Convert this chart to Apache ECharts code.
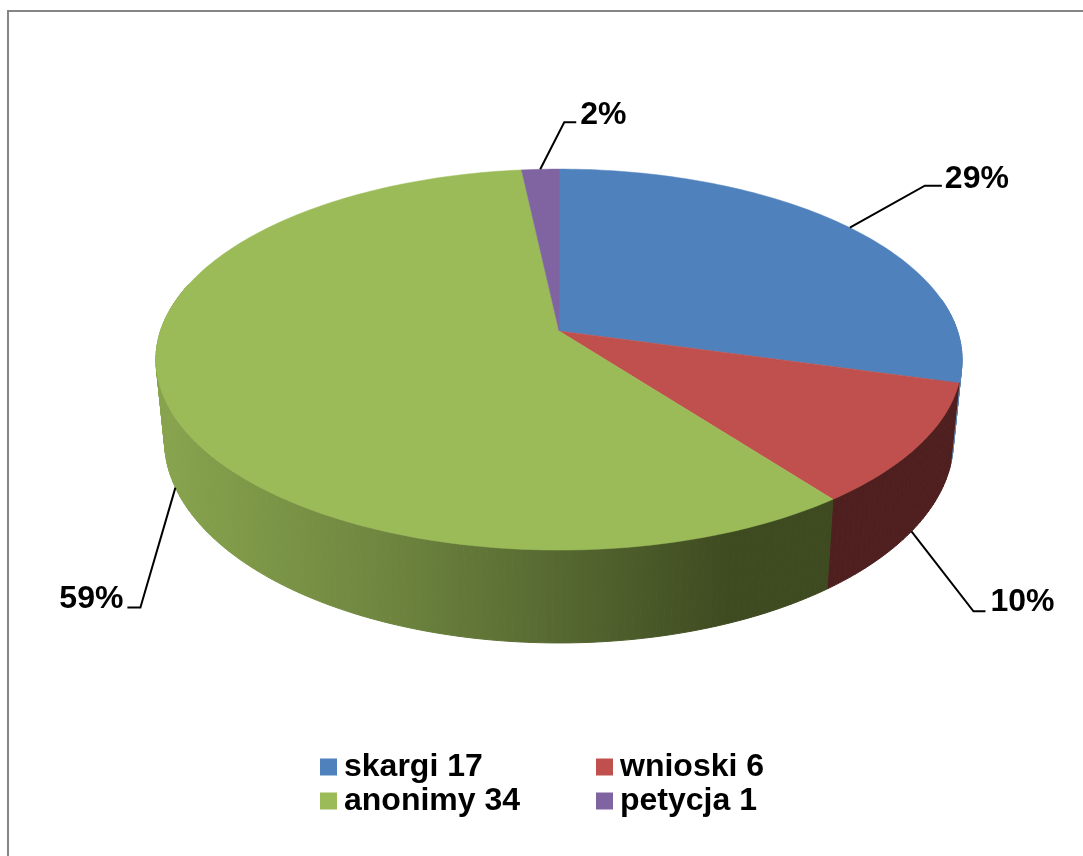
<!DOCTYPE html>
<html>
<head>
<meta charset="utf-8">
<style>
  html, body { margin: 0; padding: 0; background: #fff; }
  #main { width: 1083px; height: 856px; }
</style>
<script src="https://cdn.jsdelivr.net/npm/echarts@6/dist/echarts.min.js"></script>
</head>
<body>
<div id="main"></div>
<script>
const categories = ['skargi', 'wnioski', 'anonimy', 'petycja'];
const values = [17, 6, 34, 1];
const topColors = ['#4f81bd', '#c0504d', '#9bbb59', '#8064a2'];

const FONT = 'bold 32px "Liberation Sans", Arial, sans-serif';

// perspective of the disc: far edge is squeezed, near edge stretched
const topFace = { cx: 559, cy: 331, a: 398.5, b: 186.2, p: 0.15 };
const bottomFace = { cx: 559, cy: 410, a: 390, b: 198, p: 0.15 };

// wall shading runs left to right across the whole pie
const wallShades = [
  [{ offset: 0, color: '#5f83ad' }, { offset: 1, color: '#5f83ad' }],
  [{ offset: 0, color: '#4f1f1f' }, { offset: 1, color: '#4f1f1f' }],
  [
    { offset: 0, color: '#87a34d' },
    { offset: 0.33, color: '#6e853f' },
    { offset: 0.62, color: '#53652f' },
    { offset: 0.85, color: '#3e4a20' },
    { offset: 1, color: '#3e4a20' }
  ],
  [{ offset: 0, color: '#3f3251' }, { offset: 1, color: '#3f3251' }]
];

// where each leader line bends, relative to the point it leaves the slice
const leaders = [
  { face: topFace, elbow: [75, -42], tail: 17, text: [20, -7], align: 'left' },
  { face: bottomFace, elbow: [62, 80], tail: 12, text: [17, -9], align: 'left' },
  { face: bottomFace, elbow: [-35, 120], tail: -13, text: [-17, -8], align: 'right' },
  { face: topFace, elbow: [24, -47], tail: 12, text: [16, -7], align: 'left' }
];

const total = values.reduce(function (s, v) { return s + v; }, 0);
const starts = [];
values.reduce(function (s, v, i) { starts[i] = s; return s + v; }, 0);

function angleOf(v) {
  return v / total * 2 * Math.PI;
}

function project(face, t) {
  const u = Math.sin(t);
  const v = Math.cos(t);
  const w = 1 + face.p * v;
  return [face.cx + face.a * u / w, face.cy - face.b * v / w];
}

// only the front of the wall can be seen
const WALL_FROM = 80 * Math.PI / 180;
const WALL_TO = 285 * Math.PI / 180;
const STEP = Math.PI / 180;

function renderSlice(params, api) {
  const i = params.seriesIndex;
  const t0 = angleOf(starts[i]);
  const t1 = t0 + angleOf(api.value(0));
  const children = [];

  const from = Math.max(t0, WALL_FROM);
  const to = Math.min(t1, WALL_TO);
  const shade = new echarts.graphic.LinearGradient(170, 0, 830, 0, wallShades[i], true);
  for (let t = from; t < to; t += STEP) {
    const next = Math.min(t + STEP, to);
    children.push({
      type: 'polygon',
      z2: 1,
      shape: { points: [project(topFace, t), project(topFace, next), project(bottomFace, next), project(bottomFace, t)] },
      style: { fill: shade, stroke: shade, lineWidth: 1 }
    });
  }

  const top = [[topFace.cx, topFace.cy]];
  for (let t = t0; t < t1; t += STEP) {
    top.push(project(topFace, t));
  }
  top.push(project(topFace, t1));
  children.push({
    type: 'polygon',
    z2: 10,
    shape: { points: top },
    style: { fill: topColors[i], stroke: topColors[i], lineWidth: 0.5 }
  });

  const leader = leaders[i];
  const start = project(leader.face, (t0 + t1) / 2);
  const elbow = [start[0] + leader.elbow[0], start[1] + leader.elbow[1]];
  children.push({
    type: 'polyline',
    z2: 20,
    shape: { points: [start, elbow, [elbow[0] + leader.tail, elbow[1]]] },
    style: { fill: null, stroke: '#000', lineWidth: 2 }
  });
  children.push({
    type: 'text',
    z2: 20,
    style: {
      x: elbow[0] + leader.text[0],
      y: elbow[1] + leader.text[1],
      text: Math.round(api.value(0) / total * 100) + '%',
      font: FONT,
      fill: '#000',
      align: leader.align,
      verticalAlign: 'middle'
    }
  });
  return { type: 'group', children: children };
}

const myChart = echarts.init(document.getElementById('main'));

const option = {
  animation: false,
  graphic: [
    {
      type: 'rect',
      silent: true,
      shape: { x: 8, y: 11, width: 1200, height: 1000 },
      style: { fill: null, stroke: '#868686', lineWidth: 2 }
    }
  ],
  legend: {
    left: 320,
    top: 750,
    width: 560,
    padding: 0,
    icon: 'rect',
    itemWidth: 17,
    itemHeight: 17,
    itemGap: 0,
    selectedMode: false,
    textStyle: {
      width: 252,
      lineHeight: 34,
      padding: [0, 0, 0, 2],
      fontFamily: '"Liberation Sans", Arial, sans-serif',
      fontWeight: 'bold',
      fontSize: 32,
      color: '#000'
    }
  },
  series: categories.map(function (name, i) {
    return {
      type: 'custom',
      name: name + ' ' + values[i],
      coordinateSystem: 'none',
      silent: true,
      itemStyle: { color: topColors[i] },
      renderItem: renderSlice,
      data: [[values[i]]]
    };
  })
};

myChart.setOption(option);
</script>
</body>
</html>
